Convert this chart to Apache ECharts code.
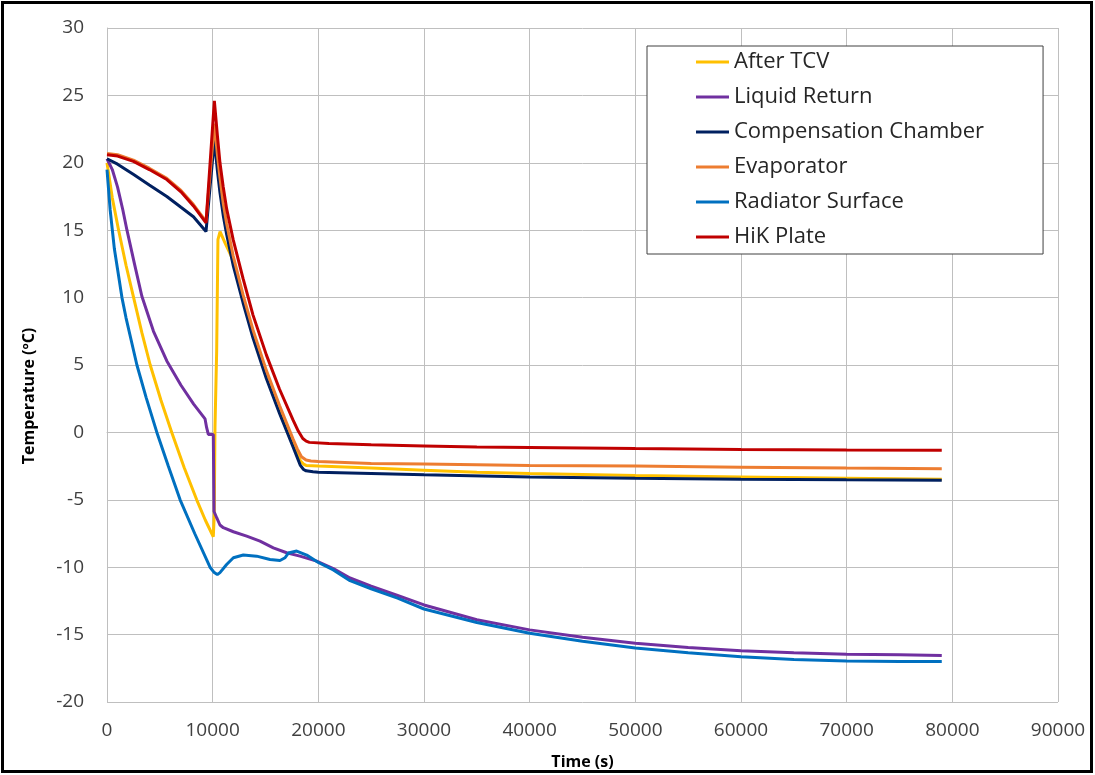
<!DOCTYPE html>
<html>
<head>
<meta charset="utf-8">
<script src="https://cdn.jsdelivr.net/npm/echarts@6/dist/echarts.min.js"></script>
<style>
  html, body { margin: 0; padding: 0; background: #fff; }
  #chart { width: 1095px; height: 775px; }
</style>
</head>
<body>
<div id="chart"></div>
<script>
// series names (legend order)
const seriesNames = ['After TCV', 'Liquid Return', 'Compensation Chamber', 'Evaporator', 'Radiator Surface', 'HiK Plate']
const seriesColors = ['#FFC000', '#7030A0', '#002060', '#ED7D31', '#0070C0', '#C00000']

// After TCV
const tcvTime = [0, 500, 1100, 1800, 2520, 3300, 4090, 5100, 6130, 7300, 8490, 9300, 10060, 10150, 10220, 10380, 10500, 10700, 11200, 11800, 12880, 13820, 15080, 16330, 17590, 18000, 18300, 18600, 18840, 20000, 25000, 30000, 35000, 40000, 50000, 60000, 70000, 79000]
const tcvTemp = [20.0, 17.4, 15.0, 12.4, 10.0, 7.4, 5.0, 2.4, 0.0, -2.6, -5.0, -6.5, -7.74, -6.1, 0.35, 6.07, 14.3, 14.9, 14.0, 13.0, 9.9, 7.3, 4.3, 1.7, -0.75, -1.5, -2.1, -2.35, -2.45, -2.5, -2.65, -2.8, -2.95, -3.05, -3.2, -3.3, -3.4, -3.48]

// Liquid Return
const liquidTime = [0, 500, 1000, 1500, 1890, 2600, 3300, 4400, 5660, 7000, 8200, 9280, 9430, 9590, 10060, 10130, 10380, 10690, 11010, 11960, 13220, 14480, 15740, 17000, 18260, 19840, 21420, 23000, 25000, 27500, 30000, 35000, 40000, 45000, 50000, 55000, 60000, 65000, 70000, 75000, 79000]
const liquidTemp = [20.3, 19.5, 18.2, 16.5, 15.0, 12.5, 10.1, 7.5, 5.3, 3.5, 2.1, 1.0, 0.35, -0.15, -0.15, -5.87, -6.33, -6.87, -7.07, -7.37, -7.7, -8.06, -8.56, -8.93, -9.18, -9.55, -10.1, -10.8, -11.4, -12.1, -12.8, -13.9, -14.65, -15.2, -15.65, -15.95, -16.2, -16.35, -16.45, -16.5, -16.55]

// Compensation Chamber
const ccTime = [0, 1000, 2520, 4000, 5660, 7000, 8180, 9370, 9500, 10160, 10450, 10690, 11000, 11320, 11940, 12880, 13820, 15080, 16330, 17590, 18000, 18300, 18600, 18840, 19500, 20000, 25000, 30000, 40000, 50000, 60000, 70000, 79000]
const ccTemp = [20.3, 19.9, 19.13, 18.35, 17.5, 16.7, 16.0, 14.9, 14.85, 21.7, 19.4, 17.8, 16.1, 14.7, 12.4, 9.6, 7.0, 4.0, 1.4, -1.05, -1.85, -2.45, -2.75, -2.85, -2.92, -2.95, -3.05, -3.15, -3.3, -3.4, -3.47, -3.52, -3.55]

// Evaporator
const evapTime = [0, 1000, 2500, 4000, 5660, 7000, 8180, 9370, 9500, 10160, 10450, 10690, 11000, 11320, 11940, 12880, 13820, 15080, 16330, 17590, 18000, 18400, 18840, 19300, 20000, 25000, 30000, 40000, 50000, 60000, 70000, 79000]
const evapTemp = [20.7, 20.6, 20.2, 19.6, 18.85, 17.95, 16.9, 15.65, 15.6, 22.9, 20.6, 18.9, 17.0, 15.5, 13.1, 10.2, 7.6, 4.6, 2.0, -0.45, -1.2, -1.8, -2.05, -2.12, -2.15, -2.3, -2.35, -2.45, -2.5, -2.58, -2.65, -2.7]

// Radiator Surface
const radTime = [0, 300, 700, 1000, 1415, 1800, 2300, 2830, 3700, 4720, 5800, 6920, 8300, 9750, 10150, 10440, 10690, 11320, 11960, 12900, 14160, 15430, 16370, 16850, 17160, 17950, 18900, 20000, 21420, 23000, 25000, 27500, 30000, 35000, 40000, 45000, 50000, 55000, 60000, 65000, 70000, 75000, 79000]
const radTemp = [19.5, 16.5, 13.6, 12.1, 10.0, 8.5, 6.8, 5.0, 2.6, 0.0, -2.5, -5.0, -7.5, -10.0, -10.4, -10.55, -10.4, -9.8, -9.3, -9.1, -9.18, -9.43, -9.5, -9.3, -8.95, -8.8, -9.1, -9.65, -10.2, -11.0, -11.6, -12.3, -13.1, -14.1, -14.9, -15.5, -16.0, -16.35, -16.65, -16.85, -16.95, -17.0, -17.0]

// HiK Plate
const hikTime = [0, 1000, 2500, 4000, 5660, 7000, 8180, 9370, 9500, 10160, 10450, 10690, 11000, 11320, 11940, 12880, 13820, 15080, 16330, 17590, 18100, 18530, 18850, 19150, 21000, 25000, 30000, 35000, 40000, 50000, 60000, 70000, 79000]
const hikTemp = [20.6, 20.5, 20.1, 19.5, 18.76, 17.85, 16.8, 15.55, 15.5, 24.6, 22.0, 20.0, 18.2, 16.6, 14.3, 11.4, 8.7, 5.75, 3.2, 0.95, 0.1, -0.45, -0.65, -0.74, -0.82, -0.92, -1.0, -1.08, -1.12, -1.2, -1.26, -1.3, -1.32]

// axis ticks
const xTicks = { min: 0, max: 90000, step: 10000 }
const yTicks = { min: -20, max: 30, step: 5 }

function pairs(ts, vs) {
    return ts.map((t, i) => [t, vs[i]])
}

{
    let view = document.getElementById('chart')
    let chart = echarts.init(view, null, { renderer: 'canvas' })
    let allData = [
        pairs(tcvTime, tcvTemp),
        pairs(liquidTime, liquidTemp),
        pairs(ccTime, ccTemp),
        pairs(evapTime, evapTemp),
        pairs(radTime, radTemp),
        pairs(hikTime, hikTemp),
    ]
    let gridColor = '#BFBFBF'
    let option = {
        animation: false,
        color: seriesColors,
        grid: { left: 107, right: 37, top: 28, bottom: 73 },
        legend: {
            orient: 'vertical',
            left: 647,
            top: 46,
            padding: [3, 59, 4, 49],
            itemGap: 9,
            itemWidth: 33,
            itemHeight: 3,
            icon: 'rect',
            backgroundColor: '#fff',
            borderColor: '#404040',
            borderWidth: 1,
            borderRadius: 0,
            textStyle: { fontFamily: 'Open Sans', fontSize: 22, lineHeight: 26, color: '#262626' },
            data: seriesNames,
        },
        xAxis: {
            type: 'value',
            min: xTicks.min,
            max: xTicks.max,
            interval: xTicks.step,
            name: 'Time (s)',
            nameLocation: 'middle',
            nameGap: 52,
            nameTextStyle: { fontFamily: 'Open Sans', fontWeight: 'bold', fontSize: 16, color: '#000' },
            axisLine: { show: true, lineStyle: { color: gridColor, width: 1 } },
            axisTick: { show: false },
            axisLabel: {
                fontFamily: 'Open Sans', fontSize: 19, color: '#404040', margin: 19,
                formatter: v => String(v),
            },
            splitLine: { show: true, lineStyle: { color: gridColor, width: 1 } },
        },
        yAxis: {
            type: 'value',
            min: yTicks.min,
            max: yTicks.max,
            interval: yTicks.step,
            axisLine: { show: true, lineStyle: { color: gridColor, width: 1 } },
            axisTick: { show: false },
            axisLabel: { fontFamily: 'Open Sans', fontSize: 19, color: '#404040', margin: 23 },
            splitLine: { show: true, lineStyle: { color: gridColor, width: 1 } },
        },
        graphic: [
            {
                type: 'rect',
                shape: { x: 2.5, y: 2.5, width: 1089, height: 769 },
                style: { fill: 'none', stroke: '#000', lineWidth: 3 },
                silent: true,
            },
            {
                type: 'text',
                x: 29,
                y: 396,
                rotation: Math.PI / 2,
                style: {
                    text: 'Temperature (ºC)',
                    font: 'bold 16px "Open Sans"',
                    fill: '#000',
                    align: 'center',
                    verticalAlign: 'middle',
                },
            },
        ],
        series: seriesNames.map((name, i) => ({
            name: name,
            type: 'line',
            data: allData[i],
            showSymbol: false,
            symbol: 'none',
            lineStyle: { width: 3, color: seriesColors[i] },
            itemStyle: { color: seriesColors[i] },
            z: 2 + i,
        })),
    }
    chart.setOption(option)
}
</script>
</body>
</html>
